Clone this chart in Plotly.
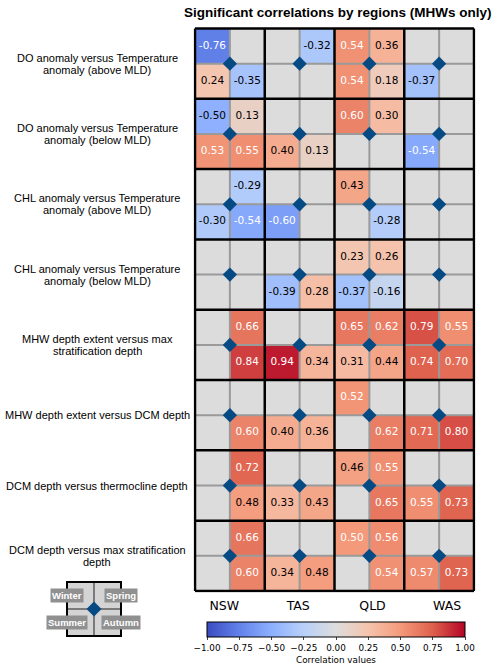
import numpy as np
import plotly.graph_objects as go

W, H = 500, 667

REGIONS = ["NSW", "TAS", "QLD", "WAS"]
REGION_TICK_POS = [0.84, 2.96, 5.09, 7.23]
SEASONS = ["Winter", "Spring", "Summer", "Autumn"]
VARIABLES = [
    "DO anomaly versus Temperature<br>anomaly (above MLD)",
    "DO anomaly versus Temperature<br>anomaly (below MLD)",
    "CHL anomaly versus Temperature<br>anomaly (above MLD)",
    "CHL anomaly versus Temperature<br>anomaly (below MLD)",
    "MHW depth extent versus max<br>stratification depth",
    "MHW depth extent versus DCM depth",
    "DCM depth versus thermocline depth",
    "DCM depth versus max stratification<br>depth",
]

# rows = variables, cols = regions (NSW, TAS, QLD, WAS); None = not significant
WINTER = [
    [-0.76, None, 0.54, None],
    [-0.497, None, 0.60, None],
    [None, None, 0.43, None],
    [None, None, 0.23, None],
    [None, None, 0.65, 0.79],
    [None, None, 0.52, None],
    [None, None, 0.46, None],
    [None, None, 0.504, None],
]
SPRING = [
    [None, -0.32, 0.36, None],
    [0.13, None, 0.30, None],
    [-0.29, None, None, None],
    [None, None, 0.26, None],
    [0.66, None, 0.62, 0.55],
    [None, None, None, None],
    [0.72, None, 0.55, None],
    [0.66, None, 0.56, None],
]
SUMMER = [
    [0.24, None, 0.54, -0.37],
    [0.53, 0.40, None, -0.54],
    [-0.30, -0.60, None, None],
    [None, -0.39, -0.37, None],
    [None, 0.94, 0.31, 0.74],
    [None, 0.40, None, 0.71],
    [None, 0.33, None, 0.55],
    [None, 0.34, None, 0.57],
]
AUTUMN = [
    [-0.35, None, 0.18, None],
    [0.55, 0.13, None, None],
    [-0.54, None, -0.28, None],
    [None, 0.28, -0.16, None],
    [0.84, 0.34, 0.44, 0.70],
    [0.60, 0.36, 0.62, 0.80],
    [0.48, 0.43, 0.65, 0.73],
    [0.60, 0.48, 0.54, 0.73],
]
CBAR_TICKS = [-1.0, -0.75, -0.5, -0.25, 0.0, 0.25, 0.5, 0.75, 1.0]

COOLWARM = [
    [0.0, "#3b4cc0"], [0.125, "#6282ea"], [0.25, "#8db0fe"],
    [0.375, "#b8d0f9"], [0.5, "#dddddd"], [0.625, "#f5c4ad"],
    [0.75, "#f49a7b"], [0.875, "#de604d"], [1.0, "#b40426"],
]
EMPTY = "#dcdcdc"
DIAMOND = "#064a84"
NUM_FONT = "DejaVu Sans"
LBL_FONT = "Liberation Sans"

n_var, n_reg = len(VARIABLES), len(REGIONS)
nr, nc = 2 * n_var, 2 * n_reg

# season -> position inside the 2x2 block
offsets = [(0, 0), (0, 1), (1, 0), (1, 1)]
grid = [[None] * nc for _ in range(nr)]
for data, (dr, dc) in zip([WINTER, SPRING, SUMMER, AUTUMN], offsets):
    for i, row in enumerate(data):
        for j, v in enumerate(row):
            if v is not None:
                grid[2 * i + dr][2 * j + dc] = v

xc = (np.arange(nc) + 0.5).tolist()
yc = (np.arange(nr) + 0.5).tolist()

fig = go.Figure()

# gray base for non significant cells
fig.add_trace(go.Heatmap(
    z=[[0] * nc for _ in range(nr)], x=xc, y=yc,
    colorscale=[[0, EMPTY], [1, EMPTY]], showscale=False, hoverinfo="skip",
))

# plot-area geometry in pixels
X0, X1, Y0, Y1 = 195, 474, 28.5, 591
ux, uy = (X1 - X0) / nc, (Y1 - Y0) / nr
pad = 0.04

fig.add_trace(go.Heatmap(
    z=grid, x=xc, y=yc, zmin=-1, zmax=1, colorscale=COOLWARM,
    hoverinfo="skip",
    colorbar=dict(
        orientation="h", x=336 / W, xanchor="center",
        y=(H - 622) / H, yanchor="top", len=258 / W, lenmode="fraction",
        xpad=0, ypad=0,
        thickness=15, outlinecolor="black", outlinewidth=1,
        tickvals=CBAR_TICKS, tickformat=".2f", ticks="outside", ticklen=3,
        tickangle=0,
        tickfont=dict(family=NUM_FONT, size=8.8, color="black"),
        title=dict(text="Correlation values", side="bottom",
                   font=dict(family=NUM_FONT, size=8.8, color="black")),
    ),
))

# cell values
tx, ty, tt, tcol = [], [], [], []
for r in range(nr):
    for c in range(nc):
        v = grid[r][c]
        if v is None:
            continue
        tx.append(c + 0.5)
        ty.append(r + 0.5)
        tt.append(f"{v:.2f}")
        tcol.append("white" if abs(v) > 0.5 else "black")
fig.add_trace(go.Scatter(
    x=tx, y=ty, text=tt, mode="text", hoverinfo="skip", showlegend=False,
    textfont=dict(family=NUM_FONT, size=10.5, color=tcol),
))

# grid lines: gray inside blocks, black around blocks
def line_xy(positions, vertical):
    xs, ys = [], []
    for p in positions:
        if vertical:
            xs += [p, p, None]
            ys += [0, nr, None]
        else:
            xs += [0, nc, None]
            ys += [p, p, None]
    return xs, ys

for step0, color, width in [(1, "#9a9a9a", 2), (0, "black", 2.5)]:
    vx, vy = line_xy(range(step0, nc + 1, 2), True)
    hx, hy = line_xy(range(step0, nr + 1, 2), False)
    fig.add_trace(go.Scatter(
        x=vx + hx, y=vy + hy, mode="lines", hoverinfo="skip", showlegend=False,
        line=dict(color=color, width=width),
    ))

# diamonds at block centres
dx = [2 * j + 1 for i in range(n_var) for j in range(n_reg)]
dy = [2 * i + 1 for i in range(n_var) for j in range(n_reg)]
fig.add_trace(go.Scatter(
    x=dx, y=dy, mode="markers", hoverinfo="skip", showlegend=False,
    marker=dict(symbol="diamond", size=11, color=DIAMOND, line=dict(width=0)),
))

# row labels, one annotation per line to keep matplotlib-like line spacing
LINE_GAP = 12
for i, lbl in enumerate(VARIABLES):
    lines = lbl.split("<br>")
    for k, ln in enumerate(lines):
        shift = ((len(lines) - 1) / 2 - k) * LINE_GAP
        fig.add_annotation(
            x=97 / W, xref="paper", y=2 * i + 1, yref="y", text=ln,
            showarrow=False, xanchor="center", yanchor="middle", yshift=shift,
            font=dict(family=LBL_FONT, size=11, color="black"),
        )

fig.add_annotation(
    x=338 / W, y=(H - 12) / H, xref="paper", yref="paper",
    text="<b>Significant correlations by regions (MHWs only)</b>",
    showarrow=False, xanchor="center", yanchor="middle",
    font=dict(family=LBL_FONT, size=13.5, color="black"),
)

# season key (bottom left)
kx, ky, ks = 94, 609, 54
def px(x):
    return x / W

def py(y):
    return (H - y) / H

shapes = []
shapes.append(dict(type="rect", xref="paper", yref="paper",
                   x0=px(kx - ks / 2), x1=px(kx + ks / 2),
                   y0=py(ky + ks / 2), y1=py(ky - ks / 2),
                   fillcolor="#d4d4d4", line=dict(color="black", width=2)))
shapes.append(dict(type="line", xref="paper", yref="paper",
                   x0=px(kx), x1=px(kx), y0=py(ky + ks / 2 - 1), y1=py(ky - ks / 2 + 1),
                   line=dict(color="#7a7a7a", width=2)))
shapes.append(dict(type="line", xref="paper", yref="paper",
                   x0=px(kx - ks / 2 + 1), x1=px(kx + ks / 2 - 1), y0=py(ky), y1=py(ky),
                   line=dict(color="#7a7a7a", width=2)))
d = 7.5
shapes.append(dict(type="path", xref="paper", yref="paper",
                   path=f"M {px(kx - d)} {py(ky)} L {px(kx)} {py(ky - d)} "
                        f"L {px(kx + d)} {py(ky)} L {px(kx)} {py(ky + d)} Z",
                   fillcolor=DIAMOND, line=dict(width=0)))
fig.update_layout(shapes=shapes)

for s, (dr, dc) in zip(SEASONS, offsets):
    fig.add_annotation(
        x=px(kx + (dc - 0.5) * ks), y=py(ky + (dr - 0.5) * 27),
        xref="paper", yref="paper", text=f"<b>{s}</b>", showarrow=False,
        xanchor="center", yanchor="middle", bgcolor="#909090", borderpad=1,
        font=dict(family=LBL_FONT, size=9.5, color="white"),
    )

fig.update_xaxes(
    domain=[(X0 - pad * ux) / W, (X1 + pad * ux) / W],
    range=[-pad, nc + pad], showgrid=False, zeroline=False,
    tickvals=REGION_TICK_POS, ticktext=REGIONS, ticks="outside", ticklen=2,
    tickcolor="rgba(0,0,0,0)",
    tickfont=dict(family=NUM_FONT, size=12.5, color="black"),
)
fig.update_yaxes(
    domain=[(H - Y1 - pad * uy) / H, (H - Y0 + pad * uy) / H],
    range=[nr + pad, -pad], showgrid=False, zeroline=False,
    showticklabels=False, ticks="",
)
fig.update_layout(
    width=W, height=H,
    margin=dict(l=0, r=0, t=0, b=0, pad=0, autoexpand=False),
    paper_bgcolor="white", plot_bgcolor="white", showlegend=False,
)

fig.write_html(
    "out.html",
    config={"displayModeBar": False},
    post_script="document.body.style.margin='0';document.body.style.overflow='hidden';",
)
